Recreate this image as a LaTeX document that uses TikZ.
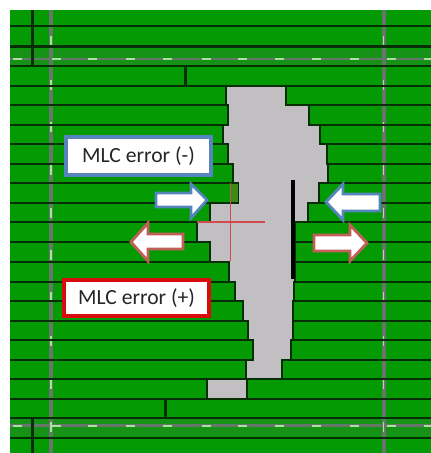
\documentclass[tikz,border=0pt]{standalone}
\usepackage{fontspec}
\setmainfont{Carlito}
\definecolor{fieldgreen}{HTML}{039A03}
\definecolor{leaf}{HTML}{052E05}
\definecolor{apert}{HTML}{C1BFC2}
\definecolor{band}{HTML}{66766A}
\definecolor{dashgreen}{HTML}{A6E49A}
\definecolor{bluee}{HTML}{5585BC}
\definecolor{rede}{HTML}{C25F58}
\definecolor{redbox}{HTML}{D80C0C}
\definecolor{crossred}{HTML}{D04A50}
\definecolor{patch}{HTML}{3A8A14}
\tikzset{
  leafline/.style={draw=leaf,line width=2.2pt},
  junction/.style={draw=leaf,line width=2.2pt},
  bandline/.style={draw=band,line width=3.6pt},
  dashmark/.style={draw=dashgreen,line width=1.3pt},
  crossline/.style={draw=crossred,line width=1.2pt},
  bluearrow/.style={fill=white,draw=bluee,line width=2.8pt,line join=miter},
  redarrow/.style={fill=white,draw=rede,line width=2.8pt,line join=miter},
  labelbox/.style={fill=white,line width=3.8pt,inner sep=0pt,font=\fontsize{21.6}{24}\selectfont,text=black!85}
}
\begin{document}
\begin{tikzpicture}[x=1pt,y=-1pt]
\useasboundingbox (0,0) rectangle (431,453);
\fill[fieldgreen] (10,10) rectangle (431,453);
% darker band round the upper and lower field edge
\fill[band,opacity=.2] (10,49) rectangle (431,66);
\fill[band,opacity=.2] (10,418) rectangle (431,436);
% field-edge bands
\draw[bandline] (51,10) -- (51,453);
\draw[bandline] (384,10) -- (384,453);
\draw[bandline,line width=2.6pt] (10,59) -- (431,59);
\draw[bandline,line width=2.6pt] (10,425.5) -- (431,425.5);
\foreach \y in {36,80,122,165,208,250,292,336,379,422}{
  \draw[dashmark] (51,\y) -- (51,\y+10);
  \draw[dashmark] (383.5,\y) -- (383.5,\y+10);
}
\foreach \x in {13,52,88,126,163,202,238,275,312,350,387,424}{
  \draw[dashmark,line width=2pt] (\x,59) -- (\x+8.5,59);
  \draw[dashmark,line width=2pt] (\x,425.5) -- (\x+8.5,425.5);
}
% leaf rows
\foreach \y in {26,46.5,66,86,105,125,144,164,183,203,222,242,262,282,301,321,340,360,379,399,418,438}{
  \draw[leafline] (10,\y) -- (431,\y);
}
% leaf junctions
\draw[junction] (32.5,10) -- (32.5,66);
\draw[junction] (185.5,66) -- (185.5,86);
\draw[junction] (165.5,399) -- (165.5,418);
\draw[junction] (32.5,418) -- (32.5,453);
% aperture
\draw[fill=apert,draw=leaf,line width=1.5pt]
  (226,86)--(286,86)--(286,105)--(309,105)--(309,125)--(320,125)--(320,144)--(327,144)--(327,164)--(328,164)--(328,183)
  --(319,183)--(319,203)--(308,203)--(308,222)--(295,222)--(295,282)--(294,282)--(294,301)--(293,301)--(293,340)--(291,340)--(291,360)
  --(282,360)--(282,379)--(247,379)--(247,399)--(207,399)--(207,379)--(246,379)--(246,360)--(253,360)--(253,340)--(248,340)--(248,321)
  --(243,321)--(243,301)--(235,301)--(235,282)--(229,282)--(229,262)--(210,262)--(210,242)--(197,242)--(197,222)--(210,222)--(210,203)
  --(238,203)--(238,183)--(233,183)--(233,164)--(228,164)--(228,144)--(223,144)--(223,125)--(228,125)--(228,105)--(226,105)--cycle;
\fill[patch] (230,184) rectangle (237.5,202);
% isocentre cross
\draw[crossline] (230.5,183) -- (230.5,261);
\draw[crossline] (197,222) -- (265,222);
% black bar
\fill[black] (291,180) rectangle (294.8,279);
% arrows
\draw[bluearrow] (156,193)--(191,193)--(191,184)--(207,200)--(191,218)--(191,207)--(156,207)--cycle;
\draw[bluearrow] (380,194)--(343,194)--(343,184)--(326,202)--(343,220)--(343,211)--(380,211)--cycle;
\draw[redarrow] (183,234)--(148,234)--(148,223)--(131,242)--(148,261)--(148,249)--(183,249)--cycle;
\draw[redarrow] (314,235)--(350,235)--(350,225)--(367,243)--(350,261)--(350,251)--(314,251)--cycle;
% labels
\node[labelbox,draw=bluee,minimum width=145.4pt,minimum height=38.4pt] (minus) at (138.5,156) {MLC error (-)};
\node[labelbox,draw=redbox,minimum width=145.4pt,minimum height=36.4pt] (plus) at (136.5,298) {MLC error (+)};
\end{tikzpicture}
\end{document}
